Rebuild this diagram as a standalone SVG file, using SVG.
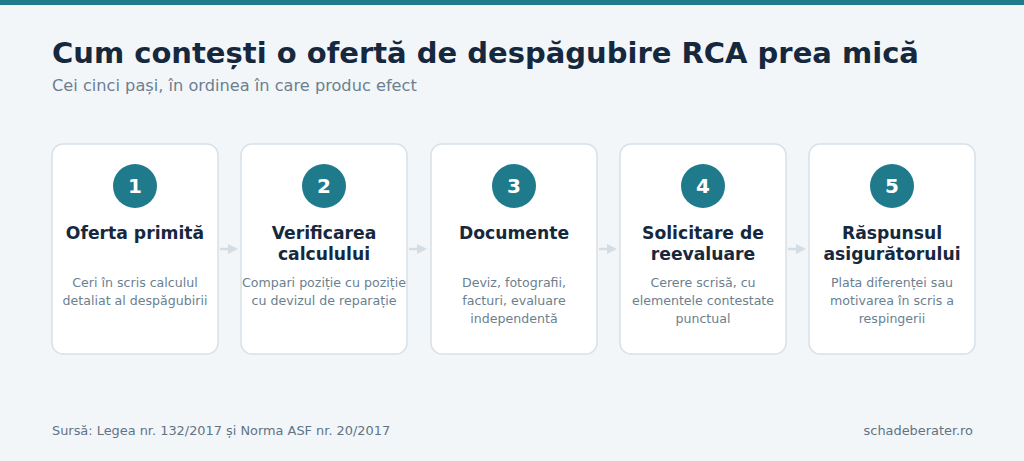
<svg xmlns="http://www.w3.org/2000/svg" width="1024" height="461" viewBox="0 0 1024 461">
<defs>
<style>
.bg{fill:#f3f6f9}
.card{fill:#ffffff;stroke:#d8e1e8;stroke-width:1.5}
.num{fill:#1f7a8c}
.numt{font-family:"DejaVu Sans",sans-serif;font-weight:bold;font-size:20px;fill:#ffffff;text-anchor:middle}
.ttl{font-family:"DejaVu Sans",sans-serif;font-weight:bold;font-size:17.2px;fill:#16283d;text-anchor:middle}
.dsc{font-family:"DejaVu Sans",sans-serif;font-size:12.6px;fill:#6b7f90;text-anchor:middle}
.conn{stroke:#d3dde5;stroke-width:2.5;fill:none}
</style>
<marker id="ah" viewBox="0 0 10 10" refX="8" refY="5" markerWidth="4" markerHeight="4" orient="auto">
<path d="M0,0 L10,5 L0,10 z" fill="#d3dde5"/>
</marker>
</defs>
<rect class="bg" x="0" y="0" width="1024" height="461"/>
<rect x="0" y="0" width="1024" height="5" fill="#1f7a8c"/>
<text x="52" y="63" font-family="DejaVu Sans, sans-serif" font-weight="bold" font-size="29" fill="#16283d">Cum contești o ofertă de despăgubire RCA prea mică</text>
<text x="52" y="91" font-family="DejaVu Sans, sans-serif" font-size="16.2" fill="#6b7f90">Cei cinci pași, în ordinea în care produc efect</text>
<g id="connectors">
<line class="conn" x1="220" y1="249" x2="236" y2="249" marker-end="url(#ah)"/>
<line class="conn" x1="409" y1="249" x2="425" y2="249" marker-end="url(#ah)"/>
<line class="conn" x1="599" y1="249" x2="615" y2="249" marker-end="url(#ah)"/>
<line class="conn" x1="788" y1="249" x2="804" y2="249" marker-end="url(#ah)"/>
</g>
<g id="step1">
<rect class="card" x="52" y="144" width="166" height="210" rx="11"/>
<circle class="num" cx="135" cy="186" r="22"/>
<text class="numt" x="135" y="193">1</text>
<text class="ttl" x="135" y="239">Oferta primită</text>
<text class="dsc" x="135" y="287">Ceri în scris calculul</text>
<text class="dsc" x="135" y="305">detaliat al despăgubirii</text>
</g>
<g id="step2">
<rect class="card" x="241" y="144" width="166" height="210" rx="11"/>
<circle class="num" cx="324" cy="186" r="22"/>
<text class="numt" x="324" y="193">2</text>
<text class="ttl" x="324" y="239">Verificarea</text>
<text class="ttl" x="324" y="260">calculului</text>
<text class="dsc" x="324" y="287">Compari poziție cu poziție</text>
<text class="dsc" x="324" y="305">cu devizul de reparație</text>
</g>
<g id="step3">
<rect class="card" x="431" y="144" width="166" height="210" rx="11"/>
<circle class="num" cx="514" cy="186" r="22"/>
<text class="numt" x="514" y="193">3</text>
<text class="ttl" x="514" y="239">Documente</text>
<text class="dsc" x="514" y="287">Deviz, fotografii,</text>
<text class="dsc" x="514" y="305">facturi, evaluare</text>
<text class="dsc" x="514" y="323">independentă</text>
</g>
<g id="step4">
<rect class="card" x="620" y="144" width="166" height="210" rx="11"/>
<circle class="num" cx="703" cy="186" r="22"/>
<text class="numt" x="703" y="193">4</text>
<text class="ttl" x="703" y="239">Solicitare de</text>
<text class="ttl" x="703" y="260">reevaluare</text>
<text class="dsc" x="703" y="287">Cerere scrisă, cu</text>
<text class="dsc" x="703" y="305">elementele contestate</text>
<text class="dsc" x="703" y="323">punctual</text>
</g>
<g id="step5">
<rect class="card" x="809" y="144" width="166" height="210" rx="11"/>
<circle class="num" cx="892" cy="186" r="22"/>
<text class="numt" x="892" y="193">5</text>
<text class="ttl" x="892" y="239">Răspunsul</text>
<text class="ttl" x="892" y="260">asigurătorului</text>
<text class="dsc" x="892" y="287">Plata diferenței sau</text>
<text class="dsc" x="892" y="305">motivarea în scris a</text>
<text class="dsc" x="892" y="323">respingerii</text>
</g>
<text x="52" y="435" font-family="DejaVu Sans, sans-serif" font-size="12.9" fill="#5f7385">Sursă: Legea nr. 132/2017 și Norma ASF nr. 20/2017</text>
<text x="973" y="435" font-family="DejaVu Sans, sans-serif" font-size="12.9" fill="#5f7385" text-anchor="end">schadeberater.ro</text>
</svg>
